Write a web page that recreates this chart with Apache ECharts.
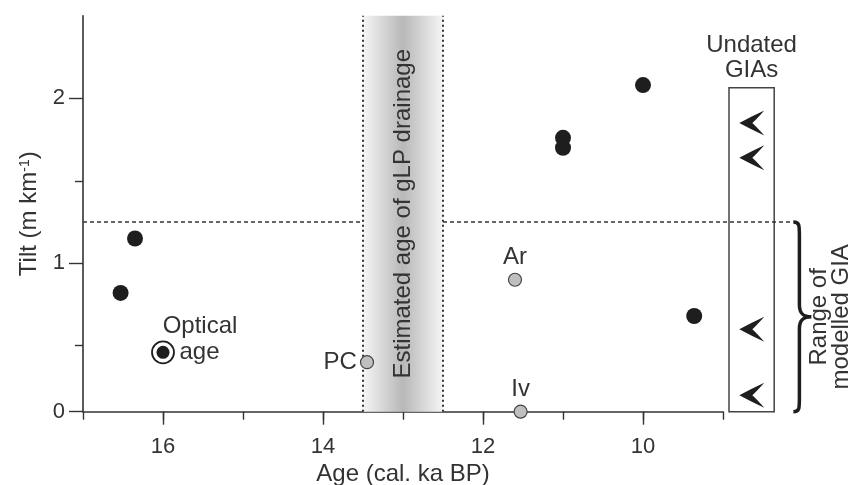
<!DOCTYPE html>
<html>
<head>
<meta charset="utf-8">
<script src="https://cdn.jsdelivr.net/npm/echarts@6/dist/echarts.min.js"></script>
<style>
  html, body { margin: 0; padding: 0; background: #fff; }
  #chart { width: 859px; height: 485px; }
</style>
</head>
<body>
<div id="chart"></div>
<script>
  // dated GIAs (black dots)
  const datedAges = [16.53, 16.35, 11.0, 11.0, 10.0, 9.36]
  const datedTilts = [0.82, 1.15, 1.76, 1.70, 2.08, 0.68]
  // optically dated point
  const opticalAges = [16.0]
  const opticalTilts = [0.46]
  // named sites (grey dots)
  const siteNames = ['PC', 'Ar', 'Iv']
  const siteAges = [13.45, 11.6, 11.53]
  const siteTilts = [0.40, 0.90, 0.10]
  // undated GIAs (arrows in the box)
  const undatedTilts = [1.85, 1.64, 0.60, 0.20]
  // estimated age of gLP drainage
  const drainageAges = [13.5, 12.5]
  // upper limit of modelled GIA
  const modelledGiaMax = 1.25
  // axis ticks
  const xTickLabels = [16, 14, 12, 10]
  const yTickValues = [0.1, 1, 2]
  const yTickLabels = ['0', '1', '2']
  const yMinorTicks = [0.5, 1.5]

  const font = '"Liberation Sans", Arial, sans-serif'
  const ink = '#333'
  const yMin = 0.1
  const yMax = 2.5
  // layout helpers for the right hand annotations (overlay grid units)
  const undatedColumn = 8.64
  const boxLeft = 8.925
  const boxRight = 8.36
  const boxTop = 2.064
  const braceAge = 8.12

  let chart = echarts.init(document.getElementById('chart'))

  let option = {
    animation: false,
    backgroundColor: '#fff',
    grid: [
      {left: 83, right: 136, top: 15.8, bottom: 73.3, outerBoundsMode: 'none', containLabel: false},
      {left: 83, right: 16, top: 15.8, bottom: 73.3, outerBoundsMode: 'none', containLabel: false}
    ],
    xAxis: [
      {
        type: 'value', gridIndex: 0, min: 9, max: 17, interval: 1, inverse: true,
        axisLine: {lineStyle: {color: ink, width: 1.6}},
        axisTick: {length: 8, lineStyle: {color: ink, width: 1.4}},
        axisLabel: {
          margin: 24, fontSize: 22, color: ink, fontFamily: font,
          formatter: (v) => xTickLabels.indexOf(v) > -1 ? String(v) : ''
        },
        splitLine: {show: false},
        name: 'Age (cal. ka BP)', nameLocation: 'middle', nameGap: 48,
        nameTextStyle: {fontSize: 24, color: ink, fontFamily: font}
      },
      {
        type: 'value', gridIndex: 0, min: 9, max: 17, inverse: true, position: 'bottom',
        axisLine: {show: false},
        axisTick: {length: 13, customValues: xTickLabels, lineStyle: {color: ink, width: 1.4}},
        axisLabel: {show: false},
        splitLine: {show: false}
      },
      {type: 'value', gridIndex: 1, min: 7.5, max: 17, inverse: true, show: false}
    ],
    yAxis: [
      {
        type: 'value', gridIndex: 0, min: yMin, max: yMax,
        axisLine: {show: true, lineStyle: {color: ink, width: 1.6}},
        axisTick: {show: true, length: 14, customValues: yTickValues, lineStyle: {color: ink, width: 1.4}},
        axisLabel: {
          customValues: yTickValues, margin: 18, fontSize: 22, color: ink, fontFamily: font,
          formatter: (v) => {
            let i = yTickValues.findIndex(t => Math.abs(t - v) < 1e-6)
            return i > -1 ? yTickLabels[i] : ''
          }
        },
        splitLine: {show: false},
        name: '{a|Tilt (m km}{s|-1}{a|)}', nameLocation: 'middle', nameGap: 36,
        nameTextStyle: {
          rich: {
            a: {fontSize: 24, color: ink, fontFamily: font},
            s: {fontSize: 14, color: ink, fontFamily: font, verticalAlign: 'top'}
          }
        }
      },
      {
        type: 'value', gridIndex: 0, min: yMin, max: yMax, position: 'left',
        axisLine: {show: false},
        axisTick: {show: true, length: 8, customValues: yMinorTicks, lineStyle: {color: ink, width: 1.4}},
        axisLabel: {show: false},
        splitLine: {show: false}
      },
      {type: 'value', gridIndex: 1, min: yMin, max: yMax, show: false}
    ],
    series: [
      {
        name: 'dated',
        type: 'scatter', xAxisIndex: 0, yAxisIndex: 0, z: 5,
        symbolSize: 16,
        itemStyle: {color: '#1e1e1e', opacity: 1},
        data: datedAges.map((a, i) => [a, datedTilts[i]]),
        markArea: {
          silent: true,
          itemStyle: {
            opacity: 1,
            color: new echarts.graphic.LinearGradient(0, 0, 1, 0, [
              {offset: 0, color: '#f5f5f5'},
              {offset: 0.5, color: '#b8b8b8'},
              {offset: 1, color: '#f5f5f5'}
            ])
          },
          label: {
            show: true, position: 'inside', rotate: 90,
            formatter: 'Estimated age of gLP drainage',
            fontSize: 24, color: ink, fontFamily: font
          },
          data: [[{xAxis: drainageAges[0]}, {xAxis: drainageAges[1]}]]
        },
        markLine: {
          silent: true, symbol: 'none', label: {show: false},
          lineStyle: {color: ink, width: 2, type: [2, 3], opacity: 1},
          data: drainageAges.map(a => ({xAxis: a}))
        }
      },
      {
        name: 'optical ring',
        type: 'scatter', xAxisIndex: 0, yAxisIndex: 0, z: 5,
        symbolSize: 22,
        itemStyle: {color: '#fff', borderColor: '#1e1e1e', borderWidth: 1.8, opacity: 1},
        label: {
          show: true, position: 'top', distance: 2, offset: [37, 0],
          formatter: 'Optical', fontSize: 24, color: ink, fontFamily: font
        },
        data: opticalAges.map((a, i) => [a, opticalTilts[i]])
      },
      {
        name: 'optical',
        type: 'scatter', xAxisIndex: 0, yAxisIndex: 0, z: 6,
        symbolSize: 13,
        itemStyle: {color: '#1e1e1e', opacity: 1},
        label: {
          show: true, position: 'right', distance: 10,
          formatter: 'age', fontSize: 24, color: ink, fontFamily: font
        },
        data: opticalAges.map((a, i) => [a, opticalTilts[i]])
      },
      {
        name: 'sites',
        type: 'scatter', xAxisIndex: 0, yAxisIndex: 0, z: 6,
        symbolSize: 13,
        itemStyle: {color: '#bfbfbf', borderColor: '#444', borderWidth: 1.2, opacity: 1},
        label: {show: true, formatter: '{b}', fontSize: 24, color: ink, fontFamily: font, distance: 3},
        data: siteNames.map((n, i) => ({
          name: n,
          value: [siteAges[i], siteTilts[i]],
          label: {position: n === 'PC' ? 'left' : 'top'}
        }))
      },
      {
        name: 'undated',
        type: 'scatter', xAxisIndex: 2, yAxisIndex: 2, z: 6,
        symbol: 'path://M0,12.5 Q12,6 25,0 Q16,10 13,12.5 Q16,15 25,25 Q12,19 0,12.5 Z',
        symbolSize: [25, 25],
        itemStyle: {color: '#1e1e1e', opacity: 1},
        data: undatedTilts.map(t => [undatedColumn, t]),
        markArea: {
          silent: true,
          itemStyle: {color: 'rgba(0,0,0,0)', borderColor: '#444', borderWidth: 1.5, opacity: 1},
          label: {
            show: true, position: 'top', distance: 4,
            formatter: 'Undated\nGIAs', fontSize: 24, lineHeight: 25, color: ink, fontFamily: font
          },
          data: [[{coord: [boxLeft, yMin]}, {coord: [boxRight, boxTop]}]]
        },
        markLine: {
          silent: true, symbol: 'none', label: {show: false},
          lineStyle: {color: ink, width: 1.5, type: [4, 3], opacity: 1},
          data: [
            [{coord: [17, modelledGiaMax]}, {coord: [drainageAges[0], modelledGiaMax]}],
            [{coord: [drainageAges[1], modelledGiaMax]}, {coord: [braceAge, modelledGiaMax]}]
          ]
        }
      },
      {
        name: 'brace',
        type: 'custom', xAxisIndex: 2, yAxisIndex: 2, z: 6, silent: true,
        clip: false,
        data: [[braceAge, yMin, modelledGiaMax]],
        renderItem: (params, api) => {
          let top = api.coord([api.value(0), api.value(2)])
          let bot = api.coord([api.value(0), api.value(1)])
          let x = top[0]
          let y0 = top[1]
          let y1 = bot[1]
          let ym = (y0 + y1) / 2
          let d = 'M' + x + ' ' + y0 +
            ' C' + (x + 6) + ' ' + y0 + ' ' + (x + 6) + ' ' + (y0 + 3) + ' ' + (x + 6) + ' ' + (y0 + 14) +
            ' L' + (x + 6) + ' ' + (ym - 12) +
            ' C' + (x + 6) + ' ' + (ym - 3) + ' ' + (x + 10) + ' ' + ym + ' ' + (x + 18) + ' ' + ym +
            ' C' + (x + 10) + ' ' + ym + ' ' + (x + 6) + ' ' + (ym + 3) + ' ' + (x + 6) + ' ' + (ym + 12) +
            ' L' + (x + 6) + ' ' + (y1 - 14) +
            ' C' + (x + 6) + ' ' + (y1 - 3) + ' ' + (x + 6) + ' ' + y1 + ' ' + x + ' ' + y1
          return {
            type: 'group',
            children: [
              {
                type: 'path',
                shape: {pathData: d},
                style: {fill: 'none', stroke: '#1e1e1e', lineWidth: 3.5}
              },
              {
                type: 'text',
                x: x + 37, y: ym, rotation: Math.PI / 2,
                style: {
                  text: 'Range of\nmodelled GIA',
                  fontSize: 24, fontFamily: font, fill: ink, lineHeight: 22,
                  align: 'center', verticalAlign: 'middle'
                }
              }
            ]
          }
        }
      }
    ]
  }
  chart.setOption(option)
</script>
</body>
</html>
